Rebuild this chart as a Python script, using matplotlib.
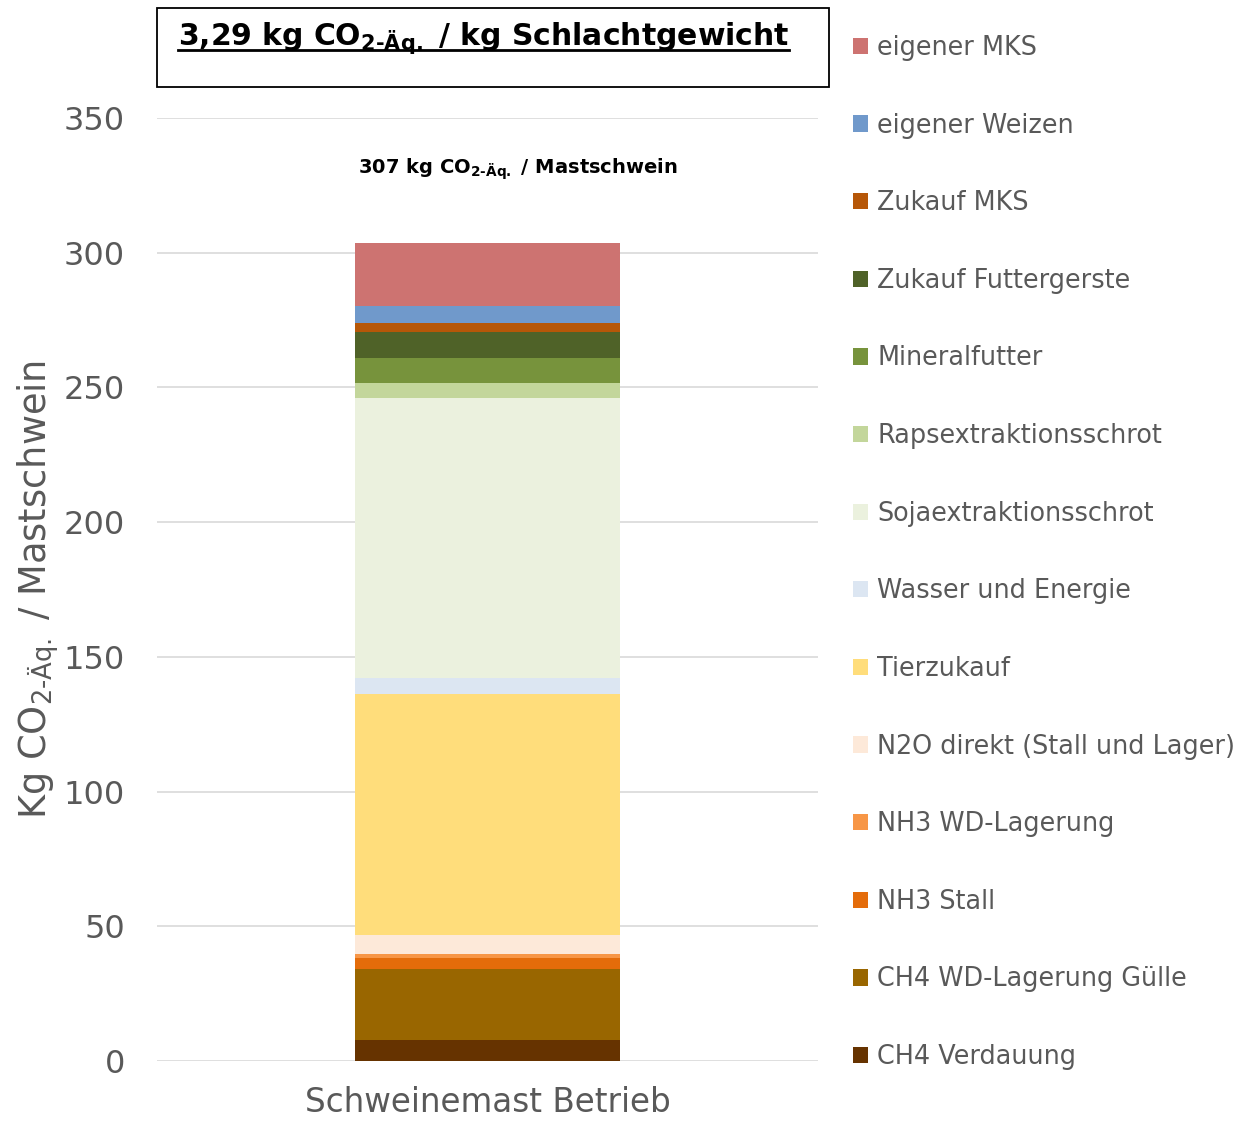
import matplotlib
matplotlib.use("Agg")
import matplotlib.pyplot as plt
import matplotlib.transforms as mtransforms
from matplotlib.patches import Rectangle, Patch
from matplotlib.lines import Line2D

categories = ["Schweinemast Betrieb"]
# stacking order bottom -> top
series = [
    "CH4 Verdauung", "CH4 WD-Lagerung Gülle", "NH3 Stall", "NH3 WD-Lagerung",
    "N2O direkt (Stall und Lager)", "Tierzukauf", "Wasser und Energie",
    "Sojaextraktionsschrot", "Rapsextraktionsschrot", "Mineralfutter",
    "Zukauf Futtergerste", "Zukauf MKS", "eigener Weizen", "eigener MKS",
]
values = [7.8, 26.4, 4.0, 1.5, 6.9, 89.7, 5.8, 103.9, 5.8, 9.2, 9.6, 3.2, 6.4, 23.5]
colors = ["#663300", "#996600", "#E46C0A", "#F79646", "#FDE9D9", "#FFDD7B",
          "#DCE6F2", "#EBF1DE", "#C3D69B", "#77933C", "#4F6228", "#B65708",
          "#7099CB", "#CD7371"]
yticks = [0, 50, 100, 150, 200, 250, 300, 350]

plt.rcParams["font.family"] = ["DejaVu Sans"]
plt.rcParams["mathtext.fontset"] = "dejavusans"
grey = "#595959"

fig = plt.figure(figsize=(12.43, 11.21), dpi=100)
ax = fig.add_axes([0.1263, 0.0535, 0.532, 0.8412])

bottom = 0.0
handles = []
for name, v, c in zip(series, values, colors):
    ax.bar(0, v, width=0.40, bottom=bottom, color=c, edgecolor="none", zorder=3)
    bottom += v
    handles.append(Patch(facecolor=c, edgecolor="none", label=name))

ax.set_xlim(-0.5, 0.5)
ax.set_ylim(0, 350)
ax.set_yticks(yticks)
ax.set_xticks([0])
ax.set_xticklabels(categories)
ax.yaxis.grid(True, color="#D9D9D9", linewidth=1.2, zorder=0)
ax.set_axisbelow(True)
for s in ax.spines.values():
    s.set_visible(False)
ax.tick_params(axis="y", length=0, labelsize=23, labelcolor=grey, pad=23)
ax.tick_params(axis="x", length=0, labelsize=23.5, labelcolor=grey, pad=18)
ax.set_ylabel("Kg CO$_{\\mathrm{2\u2010\u00c4q.}}$ / Mastschwein", fontsize=26.5, color=grey)
ax.yaxis.set_label_coords(-0.145, 0.5)

trans = mtransforms.blended_transform_factory(ax.transAxes, ax.transData)
ax.text(0.545, 331, "307 kg CO$_{\\mathbf{2\u2010\u00c4q.}}$ / Mastschwein",
        transform=trans, ha="center", va="center", fontsize=14, fontweight="bold",
        color="black")

# title box
fig.patches.append(Rectangle((0.1263, 0.9224), 0.5406, 0.0705, transform=fig.transFigure,
                             facecolor="white", edgecolor="black", linewidth=1.3))
title = fig.text(0.1432, 0.960, "3,29 kg CO$_{\\mathbf{2\u2010\u00c4q.}}$ / kg Schlachtgewicht",
                 ha="left", va="baseline", fontsize=21.5, fontweight="bold", color="black")

leg = fig.legend(handles[::-1], [h.get_label() for h in handles[::-1]],
                 loc="upper left", bbox_to_anchor=(0.6862, 0.9688), frameon=False,
                 fontsize=18.4, handlelength=0.6, handleheight=0.6, handletextpad=0.35,
                 labelspacing=2.02, borderpad=0, borderaxespad=0)
for t in leg.get_texts():
    t.set_color(grey)

# underline of title
fig.canvas.draw()
bb = title.get_window_extent()
inv = fig.transFigure.inverted()
(x0, y0), (x1, _) = inv.transform([(bb.x0, bb.y0), (bb.x1, bb.y0)])
ybase = 1 - 50 / 1121
fig.lines.append(Line2D([x0, x1], [ybase, ybase], transform=fig.transFigure,
                        color="black", linewidth=2))

fig.savefig("out.png", dpi=100)
